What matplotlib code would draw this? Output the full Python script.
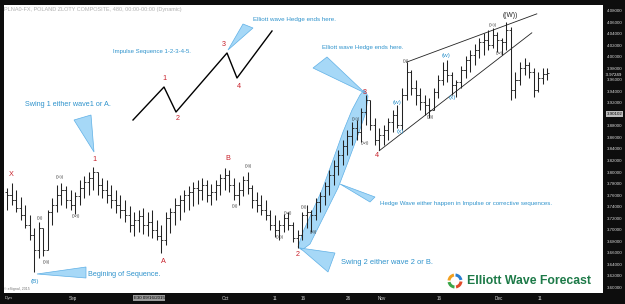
import matplotlib
matplotlib.use("Agg")
import matplotlib.pyplot as plt
from matplotlib.patches import Polygon, Wedge
from matplotlib.transforms import IdentityTransform
import numpy as np

# ---------------- data (8-hour bars, PLN A0-FX) ----------------
highs = [3.772, 3.781, 3.769, 3.757, 3.743, 3.725, 3.703, 3.713, 3.703, 3.734,
         3.755, 3.777, 3.781, 3.776, 3.769, 3.765, 3.786, 3.793, 3.800, 3.809,
         3.800, 3.790, 3.786, 3.777, 3.769, 3.760, 3.751, 3.741, 3.730, 3.734,
         3.737, 3.730, 3.734, 3.717, 3.708, 3.730, 3.737, 3.755, 3.760, 3.769,
         3.776, 3.783, 3.786, 3.790, 3.786, 3.779, 3.786, 3.797, 3.807, 3.804,
         3.790, 3.783, 3.793, 3.800, 3.777, 3.765, 3.760, 3.751, 3.734, 3.725,
         3.717, 3.727, 3.730, 3.713, 3.699, 3.730, 3.743, 3.734, 3.755, 3.765,
         3.783, 3.804, 3.821, 3.838, 3.856, 3.873, 3.887, 3.890, 3.911, 3.934,
         3.925, 3.894, 3.877, 3.882, 3.894, 3.908, 3.917, 3.946, 3.991, 3.977,
         3.960, 3.946, 3.934, 3.929, 3.946, 3.969, 3.991, 3.995, 3.974, 3.960,
         3.984, 4.002, 4.012, 4.023, 4.033, 4.042, 4.047, 4.050, 4.044, 4.033,
         4.061, 4.052, 3.974, 3.991, 3.998, 3.991, 3.981, 3.974, 3.981, 3.981]
lows = [3.734, 3.743, 3.730, 3.717, 3.703, 3.682, 3.626, 3.650, 3.654, 3.664,
        3.708, 3.730, 3.743, 3.737, 3.734, 3.727, 3.743, 3.755, 3.760, 3.769,
        3.760, 3.755, 3.746, 3.737, 3.729, 3.720, 3.713, 3.696, 3.689, 3.696,
        3.692, 3.689, 3.685, 3.682, 3.659, 3.673, 3.694, 3.708, 3.717, 3.730,
        3.734, 3.741, 3.744, 3.751, 3.748, 3.743, 3.751, 3.760, 3.769, 3.765,
        3.751, 3.743, 3.758, 3.762, 3.737, 3.730, 3.725, 3.717, 3.699, 3.687,
        3.682, 3.696, 3.699, 3.678, 3.668, 3.682, 3.703, 3.696, 3.717, 3.730,
        3.743, 3.760, 3.777, 3.795, 3.812, 3.830, 3.847, 3.856, 3.852, 3.882,
        3.873, 3.847, 3.838, 3.847, 3.856, 3.870, 3.877, 3.873, 3.925, 3.934,
        3.917, 3.908, 3.899, 3.894, 3.908, 3.929, 3.951, 3.957, 3.934, 3.930,
        3.946, 3.964, 3.974, 3.986, 3.998, 4.004, 4.012, 4.016, 4.009, 4.004,
        4.012, 3.925, 3.929, 3.951, 3.969, 3.963, 3.930, 3.939, 3.953, 3.960]
closes = [3.760, 3.751, 3.737, 3.725, 3.708, 3.690, 3.664, 3.703, 3.664, 3.730,
          3.743, 3.760, 3.769, 3.751, 3.743, 3.758, 3.772, 3.783, 3.790, 3.800,
          3.777, 3.769, 3.760, 3.751, 3.743, 3.734, 3.725, 3.708, 3.717, 3.724,
          3.708, 3.713, 3.699, 3.689, 3.682, 3.720, 3.730, 3.743, 3.751, 3.760,
          3.765, 3.772, 3.769, 3.777, 3.760, 3.765, 3.777, 3.790, 3.795, 3.777,
          3.760, 3.769, 3.786, 3.772, 3.751, 3.743, 3.734, 3.725, 3.708, 3.699,
          3.708, 3.720, 3.708, 3.685, 3.690, 3.725, 3.730, 3.725, 3.748, 3.758,
          3.776, 3.795, 3.810, 3.830, 3.845, 3.863, 3.877, 3.870, 3.904, 3.925,
          3.882, 3.856, 3.864, 3.873, 3.887, 3.899, 3.882, 3.934, 3.974, 3.946,
          3.934, 3.922, 3.917, 3.908, 3.939, 3.960, 3.977, 3.969, 3.951, 3.957,
          3.977, 3.995, 4.004, 4.012, 4.026, 4.029, 4.021, 4.038, 4.029, 4.026,
          4.047, 3.943, 3.960, 3.981, 3.986, 3.974, 3.943, 3.963, 3.970, 3.972]
opens = [3.765, 3.760, 3.751, 3.737, 3.725, 3.708, 3.690, 3.664, 3.703, 3.664,
         3.730, 3.743, 3.760, 3.769, 3.751, 3.743, 3.758, 3.772, 3.783, 3.790,
         3.800, 3.777, 3.769, 3.760, 3.751, 3.743, 3.734, 3.725, 3.708, 3.717,
         3.724, 3.708, 3.713, 3.699, 3.689, 3.682, 3.720, 3.730, 3.743, 3.751,
         3.760, 3.765, 3.772, 3.769, 3.777, 3.760, 3.765, 3.777, 3.790, 3.795,
         3.777, 3.760, 3.769, 3.786, 3.772, 3.751, 3.743, 3.734, 3.725, 3.708,
         3.699, 3.708, 3.720, 3.708, 3.685, 3.690, 3.725, 3.730, 3.725, 3.748,
         3.758, 3.776, 3.795, 3.810, 3.830, 3.845, 3.863, 3.877, 3.870, 3.904,
         3.925, 3.882, 3.856, 3.864, 3.873, 3.887, 3.899, 3.882, 3.934, 3.974,
         3.946, 3.934, 3.922, 3.917, 3.908, 3.939, 3.960, 3.977, 3.969, 3.951,
         3.957, 3.977, 3.995, 4.004, 4.012, 4.026, 4.029, 4.021, 4.038, 4.029,
         4.026, 4.047, 3.943, 3.960, 3.981, 3.986, 3.974, 3.943, 3.963, 3.970]

x_tick_pos = [14.5, 48.2, 59.0, 65.2, 75.1, 82.6, 95.2, 108.4, 117.4]
x_tick_labels = ["Sep", "Oct", "11", "16", "26", "Nov", "16", "Dec", "11"]
y_ticks = [3.60, 3.62, 3.64, 3.66, 3.68, 3.70, 3.72, 3.74, 3.76, 3.78, 3.80,
           3.82, 3.84, 3.86, 3.88, 3.92, 3.94, 3.96, 3.98, 4.00, 4.02, 4.04,
           4.06, 4.08]
last_price = 3.97249
cursor_price = 3.90102

# wave labels: text, bar position, price
red_labels = [("X", 0.9, 3.7965), ("1", 19.2, 3.821), ("A", 34.4, 3.645),
              ("B", 48.7, 3.824), ("2", 64.1, 3.657), ("3", 78.9, 3.939),
              ("4", 81.5, 3.828)]
blue_labels = [("(B)", 6.2, 3.609), ("(w)", 85.9, 3.920), ("(x)", 86.6, 3.871),
               ("(w)", 96.7, 4.003), ("(x)", 98.2, 3.930)]
black_labels = [("((i))", 7.3, 3.720), ("((ii))", 8.6, 3.643), ("((iii))", 11.7, 3.791),
                ("((iv))", 15.2, 3.7235), ("((i))", 50.2, 3.741), ("((ii))", 53.1, 3.810),
                ("((iii))", 60.1, 3.687), ("((iv))", 61.9, 3.729), ("((i))", 65.4, 3.739),
                ("((ii))", 67.4, 3.696), ("((iii))", 76.9, 3.892), ("((iv))", 78.9, 3.850),
                ("((i))", 87.9, 3.993), ("((ii))", 93.2, 3.896), ("((iii))", 107.0, 4.056),
                ("((iv))", 108.6, 4.007)]

# channel lines (bar, price)
lower_channel = [(82.0, 3.837), (115.6, 4.042)]
upper_channel = [(88.0, 3.991), (116.7, 4.075)]

# ---------------- figure ----------------
W, H = 625, 304
fig = plt.figure(figsize=(W / 100, H / 100), dpi=100, facecolor="#0d0d0d")
ax = fig.add_axes([4 / W, 11 / H, 599 / W, 288 / H], facecolor="white")
FONT = ["Liberation Sans", "DejaVu Sans"]

idx = np.arange(len(highs))
ax.set_xlim(-0.661, 131.28)
ax.set_ylim(3.5896, 4.0904)


def P(x, y):
    """reference pixel -> axes fraction for the illustrative overlays"""
    return ((x - 4) / 599, (293 - y) / 288)


BLUE_FILL = "#a6d8f7"
BLUE_EDGE = "#5fb0e6"
TXT_BLUE = "#2f93cc"
RED = "#c8202a"

# blue band along wave 3
band = [(298, 247), (303, 232), (312, 212), (322, 190), (333, 160), (343, 132),
        (352, 110), (360, 95), (364, 90), (368, 96), (366, 112), (358, 135),
        (348, 162), (338, 188), (328, 208), (318, 228), (310, 244), (302, 250)]
ax.add_patch(Polygon([P(*p) for p in band], closed=True, transform=ax.transAxes,
                     facecolor=BLUE_FILL, edgecolor=BLUE_EDGE, lw=0.5, zorder=1))

# OHLC bars
bar_col = "#222222"
ax.vlines(idx, lows, highs, color=bar_col, lw=0.75, zorder=3)
ax.hlines(opens, idx - 0.45, idx, color=bar_col, lw=0.6, zorder=3)
ax.hlines(closes, idx, idx + 0.45, color=bar_col, lw=0.6, zorder=3)

# channel lines
for ln in (lower_channel, upper_channel):
    ax.plot([ln[0][0], ln[1][0]], [ln[0][1], ln[1][1]], color="#222", lw=0.6, zorder=4)

# triangles
tris = [[(74, 120), (91, 115), (94, 152)],
        [(228, 50), (243, 24), (253, 28)],
        [(313, 68), (327, 57), (365, 93)],
        [(37, 274), (86, 267), (86, 278)],
        [(340, 184), (375, 197), (370, 202)],
        [(300, 248), (335, 253), (328, 272)]]
for t in tris:
    ax.add_patch(Polygon([P(*p) for p in t], closed=True, transform=ax.transAxes,
                         facecolor=BLUE_FILL, edgecolor=BLUE_EDGE, lw=0.5, zorder=2))

# schematic impulse zig-zag
zz = [(133, 120), (164, 87), (176, 112), (227, 53), (237, 78), (272, 31)]
ax.plot([P(*p)[0] for p in zz], [P(*p)[1] for p in zz], color="black", lw=1.0,
        transform=ax.transAxes, zorder=4)
for t, (x, y) in zip(["1", "2", "3", "4"], [(164, 79), (178, 119), (224, 45), (239, 87)]):
    ax.text(*P(x, y), t, transform=ax.transAxes, color=RED, fontsize=5.2,
            ha="center", va="center", family=FONT, zorder=5)

# wave labels
for t, xi, pr in red_labels:
    ax.text(xi, pr, t, color=RED, fontsize=5.2, ha="center", va="center", family=FONT, zorder=5)
for t, xi, pr in blue_labels:
    ax.text(xi, pr, t, color=TXT_BLUE, fontsize=4.6, ha="center", va="center", family=FONT, zorder=5)
for t, xi, pr in black_labels:
    ax.text(xi, pr, t, color="#333", fontsize=2.9, ha="center", va="center", family=FONT, zorder=5)
ax.text(110.8, 4.073, "((W))", color="#222", fontsize=4.8, ha="center", va="center",
        family=FONT, zorder=5)

# annotation texts
notes = [("Impulse Sequence 1-2-3-4-5.", 113, 52, 4.35),
         ("Elliott wave Hedge ends here.", 253, 19, 4.5),
         ("Elliott wave Hedge ends here.", 322, 48, 4.45),
         ("Swing 1 either wave1 or A.", 25, 105, 5.2),
         ("Begining of Sequence.", 88, 275, 5.2),
         ("Swing 2 either wave 2 or B.", 341, 263, 5.4),
         ("Hedge Wave either happen in Impulse or corrective sequences.", 380, 203, 4.45)]
for t, x, y, fs in notes:
    ax.text(*P(x, y), t, transform=ax.transAxes, color=TXT_BLUE, fontsize=fs,
            ha="left", va="center", family=FONT, zorder=5)

# header and copyright
ax.text(*P(4, 10), "PLNA0-FX, POLAND ZLOTY COMPOSITE, 480, 00:00-00:00 (Dynamic)",
        transform=ax.transAxes, color="#b0b0b0", fontsize=4.0, ha="left", va="center",
        family=FONT)
ax.text(*P(4, 289), "© eSignal, 2015", transform=ax.transAxes, color="#777",
        fontsize=2.6, ha="left", va="center", family=FONT)

# logo (drawn in display pixels)
logo_cols = ["#2b7fd0", "#f2a01f", "#3aa64a", "#e04a2a"]
for k, c in enumerate(logo_cols):
    w = Wedge((455, H - 281), 7.5, 90 * k + 10, 90 * k + 85, width=3,
              facecolor=c, edgecolor="none", transform=IdentityTransform())
    fig.patches.append(w)
ax.text(*P(467, 281), "Elliott Wave Forecast", transform=ax.transAxes,
        color="#1d7a48", fontsize=8.8, fontweight="bold", ha="left", va="center",
        family=FONT, zorder=6)

# axes styling
for s in ax.spines.values():
    s.set_visible(False)
ax.yaxis.tick_right()
ax.set_yticks(y_ticks)
ax.set_yticklabels([f"{v:.5f}" for v in y_ticks])
ax.tick_params(axis="y", length=0, pad=2.5, labelsize=3.2, labelcolor="#d8d8d8")
ax.set_xticks(x_tick_pos)
ax.set_xticklabels(x_tick_labels)
ax.tick_params(axis="x", length=0, pad=2.2, labelsize=3.3, labelcolor="#d8d8d8")
for lab in ax.get_xticklabels() + ax.get_yticklabels():
    lab.set_family(FONT)

# price markers on the y-axis strip
ax.text(1.0, (last_price - 3.5896) / (4.0904 - 3.5896), f"  {last_price:.5f}",
        transform=ax.transAxes, color="white", fontsize=3.2, ha="left", va="top",
        family=FONT, clip_on=False)
ax.annotate(f"{cursor_price:.5f}", xy=(1.0, (cursor_price - 3.5896) / (4.0904 - 3.5896)),
            xycoords="axes fraction", xytext=(2.5, 0), textcoords="offset points",
            color="black", fontsize=3.2, ha="left", va="center", family=FONT,
            bbox=dict(boxstyle="square,pad=0.15", fc="#bdbdbd", ec="none"),
            annotation_clip=False)

# bottom strip items
fig.text(5 / W, 1 - 298 / H, "Dyn", color="#cfcfcf", fontsize=3.2, ha="left",
         va="center", family=FONT)
fig.text(149 / W, 1 - 298 / H, "E30 09/16/2015", color="black", fontsize=3.2,
         ha="center", va="center", family=FONT,
         bbox=dict(boxstyle="square,pad=0.15", fc="#9a9a9a", ec="none"))

fig.savefig("out.png", dpi=100, facecolor=fig.get_facecolor())
